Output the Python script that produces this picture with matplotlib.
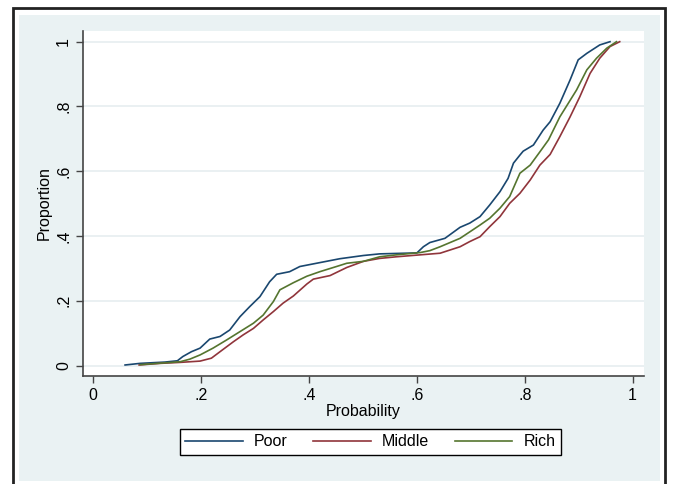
import matplotlib
matplotlib.use("Agg")
from matplotlib import pyplot as plt
from matplotlib.patches import Rectangle

plt.rcParams['font.family'] = ['Liberation Sans', 'DejaVu Sans']

# Cumulative proportion vs predicted probability
poor_x = [0.059, 0.087, 0.133, 0.156, 0.166, 0.182, 0.198, 0.216, 0.235, 0.253,
          0.272, 0.290, 0.309, 0.327, 0.340, 0.364, 0.383, 0.420, 0.457, 0.501,
          0.531, 0.600, 0.612, 0.624, 0.652, 0.680, 0.698, 0.717, 0.735, 0.754,
          0.769, 0.779, 0.791, 0.797, 0.816, 0.834, 0.847, 0.865, 0.884, 0.899,
          0.915, 0.939, 0.958]
poor_y = [0.002, 0.007, 0.011, 0.015, 0.028, 0.043, 0.054, 0.082, 0.090, 0.110,
          0.151, 0.182, 0.213, 0.259, 0.282, 0.290, 0.306, 0.318, 0.330, 0.340,
          0.345, 0.348, 0.367, 0.380, 0.393, 0.427, 0.440, 0.460, 0.496, 0.537,
          0.578, 0.625, 0.650, 0.662, 0.681, 0.727, 0.753, 0.810, 0.882, 0.944,
          0.964, 0.990, 1.000]

middle_x = [0.085, 0.124, 0.161, 0.198, 0.219, 0.235, 0.260, 0.278, 0.297, 0.315,
            0.334, 0.352, 0.371, 0.396, 0.408, 0.439, 0.470, 0.501, 0.531, 0.562,
            0.606, 0.643, 0.680, 0.698, 0.717, 0.735, 0.754, 0.772, 0.791, 0.810,
            0.828, 0.847, 0.865, 0.884, 0.902, 0.921, 0.939, 0.958, 0.976]
middle_y = [0.002, 0.007, 0.010, 0.014, 0.023, 0.043, 0.074, 0.095, 0.115, 0.141,
            0.167, 0.193, 0.215, 0.252, 0.267, 0.278, 0.303, 0.322, 0.331, 0.336,
            0.342, 0.347, 0.367, 0.383, 0.398, 0.429, 0.460, 0.501, 0.532, 0.573,
            0.619, 0.652, 0.707, 0.768, 0.830, 0.902, 0.949, 0.985, 1.000]

rich_x = [0.087, 0.161, 0.179, 0.198, 0.222, 0.247, 0.272, 0.297, 0.315, 0.334,
          0.346, 0.371, 0.396, 0.420, 0.451, 0.470, 0.501, 0.531, 0.562, 0.606,
          0.624, 0.643, 0.680, 0.717, 0.735, 0.754, 0.772, 0.791, 0.810, 0.828,
          0.844, 0.865, 0.896, 0.915, 0.933, 0.952, 0.970]
rich_y = [0.003, 0.012, 0.020, 0.033, 0.054, 0.079, 0.105, 0.131, 0.156, 0.198,
          0.234, 0.256, 0.276, 0.290, 0.306, 0.316, 0.322, 0.336, 0.342, 0.349,
          0.355, 0.367, 0.393, 0.434, 0.455, 0.486, 0.522, 0.594, 0.619, 0.660,
          0.697, 0.768, 0.851, 0.913, 0.949, 0.980, 1.000]

x_ticks = [0, 0.2, 0.4, 0.6, 0.8, 1]
x_labels = ["0", ".2", ".4", ".6", ".8", "1"]
y_ticks = [0, 0.2, 0.4, 0.6, 0.8, 1]
y_labels = ["0", ".2", ".4", ".6", ".8", "1"]

W, H = 673, 484
FS = 11.5
fig = plt.figure(figsize=(W / 100, H / 100), dpi=100)
fig.patch.set_facecolor("white")

# outer frame and light blue graph region (Stata s2color look)
fig.patches.append(Rectangle((13 / W, -0.05), 652 / W, 1 - 8 / H + 0.05,
                             transform=fig.transFigure, facecolor="white",
                             edgecolor="#222222", linewidth=2, zorder=0))
fig.patches.append(Rectangle((19 / W, 1 - 481 / H), 641 / W, 466 / H,
                             transform=fig.transFigure, facecolor="#EAF2F3",
                             edgecolor="none", zorder=0.5))

ax = fig.add_axes([83 / W, 1 - 376 / H, 561 / W, 345 / H])
ax.set_zorder(2)
ax.set_facecolor("white")

ax.plot(poor_x, poor_y, color="#1A476F", lw=1.2, label="Poor")
ax.plot(middle_x, middle_y, color="#90353B", lw=1.2, label="Middle")
ax.plot(rich_x, rich_y, color="#55752F", lw=1.2, label="Rich")

ax.set_xlim(-0.019, 1.021)
ax.set_ylim(-0.032, 1.033)
ax.set_xticks(x_ticks)
ax.set_xticklabels(x_labels)
ax.set_yticks(y_ticks)
ax.set_yticklabels(y_labels, rotation=90, va="center")
ax.tick_params(labelsize=FS, length=5, width=1, color="#444444")
ax.grid(axis="y", color="#E6EEF0", lw=1.2)
ax.set_axisbelow(True)
for s in ["top", "right"]:
    ax.spines[s].set_visible(False)
for s in ["left", "bottom"]:
    ax.spines[s].set_color("#444444")
    ax.spines[s].set_linewidth(1.2)

ax.set_xlabel("Probability", fontsize=FS, labelpad=1)
ax.set_ylabel("Proportion", fontsize=FS, labelpad=3)

leg = fig.legend(loc="center", bbox_to_anchor=(370.5 / W, 1 - 441.7 / H),
                 ncol=3, fontsize=FS, handlelength=3.6, columnspacing=1.6,
                 handletextpad=0.7, fancybox=False, frameon=True,
                 borderpad=0.35, framealpha=1)
leg.set_zorder(3)
leg.get_frame().set_edgecolor("black")
leg.get_frame().set_linewidth(1)

fig.savefig("out.png", dpi=100)
